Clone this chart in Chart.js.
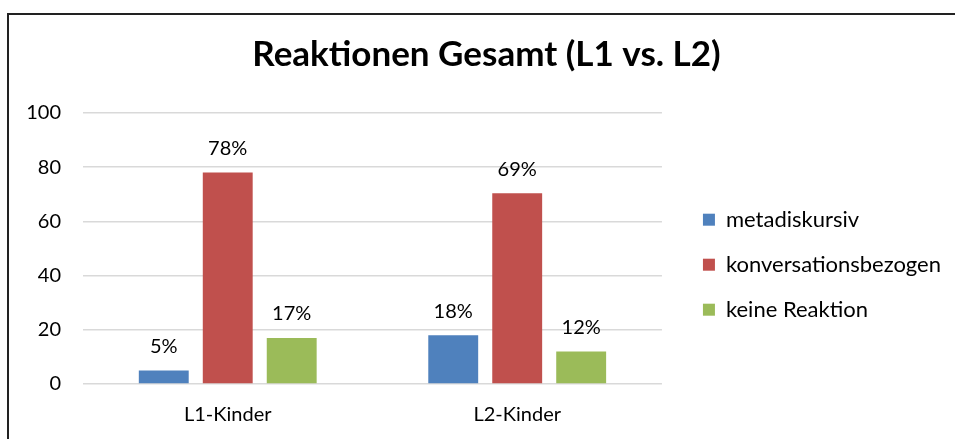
<!DOCTYPE html>
<html>
<head>
<meta charset="utf-8">
<script src="https://cdn.jsdelivr.net/npm/chart.js@4.4.1/dist/chart.umd.min.js"></script>
<style>
  html, body { margin: 0; padding: 0; background: #fff; overflow: hidden; }
  #wrap { position: relative; width: 955px; height: 439px; }
  #frame { position: absolute; left: 7px; top: 13px; width: 980px; height: 460px;
           border-top: 2px solid #222; border-left: 2px solid #222; box-sizing: border-box; pointer-events: none; }
  canvas { position: absolute; left: 0; top: 0; }
</style>
</head>
<body>
<div id="wrap">
  <canvas id="c" width="955" height="439"></canvas>
  <div id="frame"></div>
</div>
<script>
const chartTitle = 'Reaktionen Gesamt (L1 vs. L2)';
const categories = ['L1-Kinder', 'L2-Kinder'];
const seriesNames = ['metadiskursiv', 'konversationsbezogen', 'keine Reaktion'];
const metadiskursiv = [5, 18];
const konversationsbezogen = [78, 70.4];
const keineReaktion = [17, 12];
const metadiskursivLabels = ['5%', '18%'];
const konversationsbezogenLabels = ['78%', '69%'];
const keineReaktionLabels = ['17%', '12%'];
const yTicks = [0, 20, 40, 60, 80, 100];

const colors = ['#4F81BD', '#C0504D', '#9BBB59'];
const valueLists = [metadiskursiv, konversationsbezogen, keineReaktion];
const labelLists = [metadiskursivLabels, konversationsbezogenLabels, keineReaktionLabels];

const FONT = 'Lato, "Open Sans", sans-serif';
const FS = 20;

const dataLabelPlugin = {
  id: 'dataLabels',
  afterDatasetsDraw(chart) {
    const ctx = chart.ctx;
    ctx.save();
    ctx.font = FS + 'px ' + FONT;
    ctx.fillStyle = '#000';
    ctx.textAlign = 'center';
    ctx.textBaseline = 'middle';
    chart.data.datasets.forEach((ds, i) => {
      const meta = chart.getDatasetMeta(i);
      meta.data.forEach((bar, j) => {
        ctx.fillText(labelLists[i][j], bar.x, bar.y - 24);
      });
    });
    ctx.restore();
  }
};

new Chart(document.getElementById('c'), {
  type: 'bar',
  data: {
    labels: categories,
    datasets: seriesNames.map((name, i) => ({
      label: name,
      data: valueLists[i],
      backgroundColor: colors[i],
      borderWidth: 0,
      barPercentage: 0.78,
      categoryPercentage: 0.663
    }))
  },
  plugins: [dataLabelPlugin],
  options: {
    responsive: false,
    animation: false,
    devicePixelRatio: 1,
    layout: { padding: { left: 22, right: 4, top: 0, bottom: 0 } },
    plugins: {
      title: {
        display: true,
        text: chartTitle,
        color: '#000',
        font: { family: FONT, size: 35, weight: 'bold' },
        padding: { top: 34, bottom: 37 }
      },
      legend: {
        position: 'right',
        align: 'center',
        fullSize: false,
        maxWidth: 400,
        title: { display: true, text: ' ', font: { size: 12 }, padding: { top: 0, bottom: 18 } },
        labels: {
          color: '#000',
          font: { family: FONT, size: 22 },
          boxWidth: 12,
          boxHeight: 12,
          padding: 23
        }
      },
      tooltip: { enabled: false }
    },
    scales: {
      x: {
        grid: { display: false, drawTicks: false },
        border: { display: false },
        ticks: { color: '#000', font: { family: FONT, size: FS }, padding: 19 },
        afterFit(s) { s.height = 55; }
      },
      y: {
        min: 0, max: 100,
        afterBuildTicks(s) { s.ticks = yTicks.map(v => ({ value: v })); },
        grid: { color: '#D9D9D9', lineWidth: 1.5, drawTicks: false },
        border: { display: false },
        ticks: { color: '#000', font: { family: FONT, size: FS }, padding: 22 },
        afterFit(s) { s.width = 61; }
      },
      spacer: {
        position: 'right',
        display: true,
        grid: { display: false, drawTicks: false },
        border: { display: false },
        ticks: { display: false },
        afterFit(s) { s.width = 18; }
      }
    }
  }
});
</script>
</body>
</html>
